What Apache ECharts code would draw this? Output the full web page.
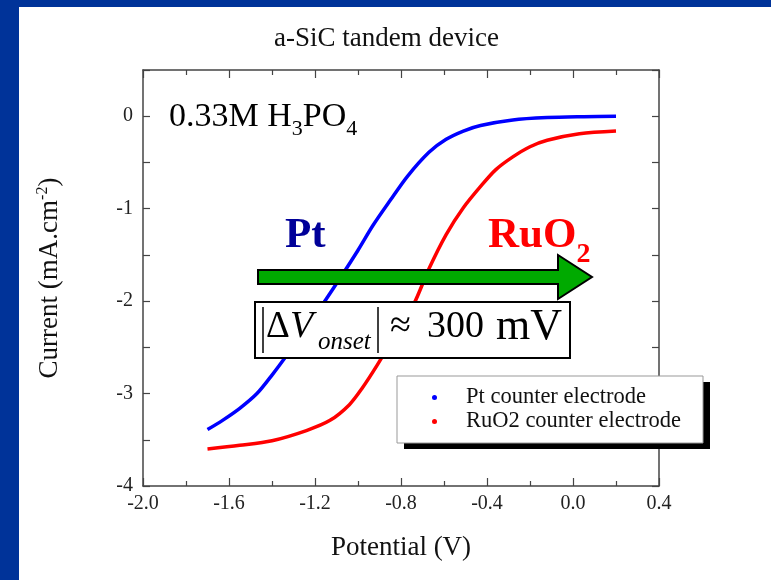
<!DOCTYPE html>
<html>
<head>
<meta charset="utf-8">
<script src="https://cdn.jsdelivr.net/npm/echarts@6/dist/echarts.min.js"></script>
<style>
  html, body { margin: 0; padding: 0; background: #fff; }
  #main { width: 771px; height: 580px; }
</style>
</head>
<body>
<div id="main"></div>
<script>
// Pt counter electrode (potential V, current mA/cm2)
const ptPotential = [-1.70, -1.63, -1.55, -1.47, -1.40, -1.32, -1.24, -1.16, -1.08, -1.00, -0.93, -0.85, -0.77, -0.67, -0.59, -0.51, -0.43, -0.28, -0.12, 0.05, 0.20]
const ptCurrent = [-3.39, -3.29, -3.16, -3.00, -2.80, -2.55, -2.29, -2.02, -1.74, -1.45, -1.18, -0.91, -0.65, -0.39, -0.25, -0.16, -0.10, -0.04, -0.015, -0.005, 0.00]
// RuO2 counter electrode
const ruPotential = [-1.70, -1.55, -1.40, -1.24, -1.13, -1.04, -0.98, -0.91, -0.83, -0.74, -0.67, -0.59, -0.51, -0.43, -0.36, -0.28, -0.20, -0.12, 0.03, 0.20]
const ruCurrent = [-3.60, -3.56, -3.51, -3.40, -3.29, -3.12, -2.94, -2.69, -2.38, -2.03, -1.65, -1.28, -0.99, -0.76, -0.58, -0.44, -0.33, -0.26, -0.19, -0.16]

const seriesNames = ['Pt counter electrode', 'RuO2 counter electrode']
const xTicks = { min: -2.0, max: 0.4, step: 0.4 }
const yTicks = { min: -4, max: 0.5, step: 0.5 }

const serif = 'Liberation Serif'
const axisColor = '#444'

function pairs (xs, ys) {
  return xs.map((x, i) => [x, ys[i]])
}

const chart = echarts.init(document.getElementById('main'))

const xAxisBase = {
  type: 'value',
  min: xTicks.min,
  max: xTicks.max,
  interval: xTicks.step,
  axisLine: { onZero: false, lineStyle: { color: axisColor, width: 1.5 } },
  axisTick: { inside: true, length: 8, lineStyle: { color: axisColor, width: 1.2 } },
  minorTick: { show: true, splitNumber: 2, length: 5, lineStyle: { color: axisColor, width: 1.2 } },
  splitLine: { show: false }
}
const yAxisBase = {
  type: 'value',
  min: yTicks.min,
  max: yTicks.max,
  interval: yTicks.step,
  axisLine: { onZero: false, lineStyle: { color: axisColor, width: 1.5 } },
  axisTick: { inside: true, length: 7, lineStyle: { color: axisColor, width: 1.2 } },
  splitLine: { show: false }
}

chart.setOption({
  animation: false,
  backgroundColor: '#fff',
  title: {
    text: 'a-SiC tandem device',
    left: 269,
    top: 20,
    textStyle: { fontFamily: serif, fontSize: 27, fontWeight: 'normal', color: '#111' }
  },
  grid: { left: 143, right: 112, top: 70, bottom: 94 },
  legend: {
    orient: 'vertical',
    left: 432,
    top: 386,
    icon: 'circle',
    itemWidth: 5,
    itemHeight: 5,
    itemGap: 1,
    padding: 0,
    z: 60,
    textStyle: { fontFamily: serif, fontSize: 22.5, color: '#111', lineHeight: 22, padding: [0, 0, 0, 24] },
    data: seriesNames
  },
  xAxis: [
    Object.assign({}, xAxisBase, {
      position: 'bottom',
      name: 'Potential (V)',
      nameLocation: 'middle',
      nameGap: 48,
      nameTextStyle: { fontFamily: serif, fontSize: 27, color: '#111' },
      axisLabel: {
        fontFamily: serif, fontSize: 20, color: '#222', margin: 8,
        formatter: v => v.toFixed(1)
      }
    }),
    Object.assign({}, xAxisBase, { position: 'top', axisLabel: { show: false } })
  ],
  yAxis: [
    Object.assign({}, yAxisBase, {
      position: 'left',
      name: '{a|Current (mA.cm}{s|-2}{a|)}',
      nameLocation: 'middle',
      nameRotate: 90,
      nameGap: 78,
      nameTextStyle: {
        rich: {
          a: { fontFamily: serif, fontSize: 27, color: '#111', lineHeight: 30 },
          s: { fontFamily: serif, fontSize: 16, color: '#111', verticalAlign: 'top', lineHeight: 30 }
        }
      },
      axisLabel: {
        fontFamily: serif, fontSize: 20, color: '#222', margin: 10,
        formatter: v => (Math.abs(v - Math.round(v)) < 1e-6 ? String(Math.round(v)) : '')
      }
    }),
    Object.assign({}, yAxisBase, { position: 'right', axisLabel: { show: false } })
  ],
  series: [
    {
      name: seriesNames[0],
      type: 'line',
      smooth: 0.3,
      showSymbol: false,
      color: '#0000ff',
      lineStyle: { color: '#0000ff', width: 3.5 },
      data: pairs(ptPotential, ptCurrent)
    },
    {
      name: seriesNames[1],
      type: 'line',
      smooth: 0.3,
      showSymbol: false,
      color: '#ff0000',
      lineStyle: { color: '#ff0000', width: 3.5 },
      data: pairs(ruPotential, ruCurrent)
    }
  ],
  graphic: [
    // slide frame
    { type: 'rect', shape: { x: 0, y: 0, width: 771, height: 7 }, style: { fill: '#003399' }, z: 200 },
    { type: 'rect', shape: { x: 0, y: 0, width: 19, height: 580 }, style: { fill: '#003399' }, z: 200 },
    // legend frame with drop shadow
    { type: 'rect', z: 50, shape: { x: 404, y: 382, width: 306, height: 67 }, style: { fill: '#000' } },
    { type: 'rect', z: 51, shape: { x: 397, y: 376, width: 306, height: 67 }, style: { fill: '#fff', stroke: '#999', lineWidth: 1 } },
    // electrolyte label
    {
      type: 'text', x: 169, y: 94, z: 100,
      style: {
        text: '{a|0.33M H}{s|3}{a|PO}{s|4}',
        rich: {
          a: { fontFamily: serif, fontSize: 34, fill: '#000', lineHeight: 46 },
          s: { fontFamily: serif, fontSize: 22, fill: '#000', lineHeight: 22, verticalAlign: 'bottom' }
        }
      }
    },
    // Pt / RuO2 labels
    {
      type: 'text', x: 285, y: 236, z: 100,
      style: { text: 'Pt', fontFamily: serif, fontSize: 43, fontWeight: 'bold', fill: '#000099', verticalAlign: 'middle' }
    },
    {
      type: 'text', x: 488, y: 203, z: 100,
      style: {
        text: '{a|RuO}{s|2}',
        rich: {
          a: { fontFamily: serif, fontSize: 43, fontWeight: 'bold', fill: '#ff0000', lineHeight: 66 },
          s: { fontFamily: serif, fontSize: 28, fontWeight: 'bold', fill: '#ff0000', lineHeight: 28, verticalAlign: 'bottom' }
        }
      }
    },
    // green arrow
    {
      type: 'polygon', z: 100,
      shape: { points: [[258, 270], [558, 270], [558, 255], [592, 277], [558, 299], [558, 284], [258, 284]] },
      style: { fill: '#00aa00', stroke: '#000', lineWidth: 2 }
    },
    // onset shift box
    {
      type: 'rect', z: 100,
      shape: { x: 255, y: 302, width: 315, height: 56 },
      style: { fill: '#fff', stroke: '#000', lineWidth: 2 }
    },
    { type: 'line', z: 101, shape: { x1: 263, y1: 307, x2: 263, y2: 353 }, style: { stroke: '#000', lineWidth: 1.5 } },
    { type: 'line', z: 101, shape: { x1: 378, y1: 307, x2: 378, y2: 353 }, style: { stroke: '#000', lineWidth: 1.5 } },
    {
      type: 'text', x: 266, y: 327, z: 101,
      style: { text: 'Δ', fontFamily: serif, fontSize: 37, fill: '#000', verticalAlign: 'middle' }
    },
    {
      type: 'text', x: 290, y: 327, z: 101,
      style: { text: 'V', fontFamily: serif, fontSize: 38, fontStyle: 'italic', fill: '#000', verticalAlign: 'middle' }
    },
    {
      type: 'text', x: 318, y: 342, z: 101,
      style: { text: 'onset', fontFamily: serif, fontSize: 25, fontStyle: 'italic', fill: '#000', verticalAlign: 'middle' }
    },
    {
      type: 'text', x: 390, y: 327, z: 101,
      style: { text: '≈', fontFamily: serif, fontSize: 38, fill: '#000', verticalAlign: 'middle' }
    },
    {
      type: 'text', x: 427, y: 327, z: 101,
      style: { text: '300', fontFamily: serif, fontSize: 38, fill: '#000', verticalAlign: 'middle' }
    },
    {
      type: 'text', x: 496, y: 327, z: 101,
      style: { text: 'mV', fontFamily: serif, fontSize: 44, fill: '#000', verticalAlign: 'middle' }
    }
  ]
})
</script>
</body>
</html>
